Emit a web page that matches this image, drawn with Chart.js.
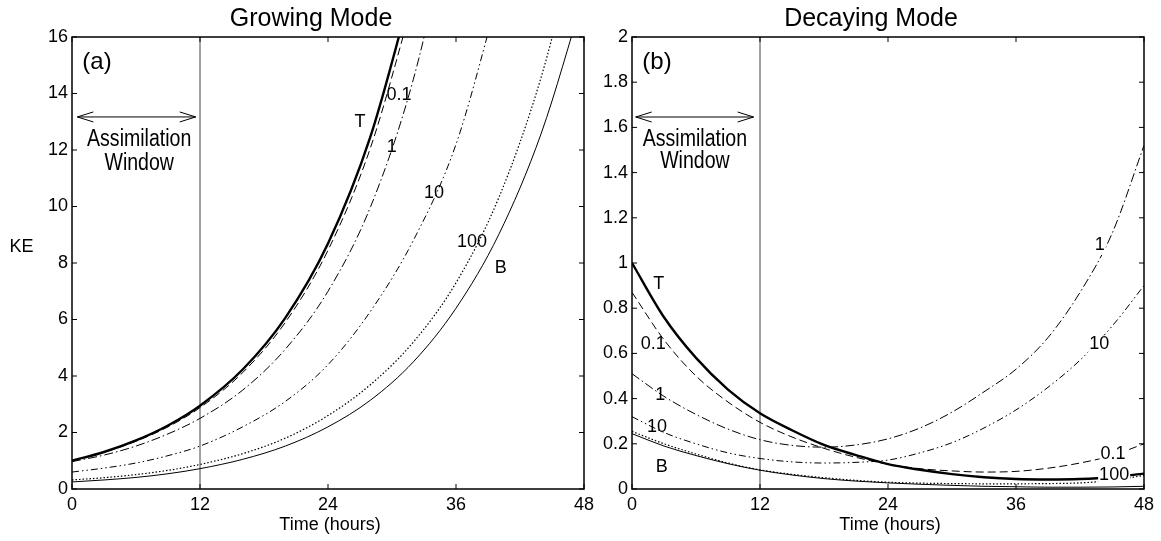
<!DOCTYPE html>
<html>
<head>
<meta charset="utf-8">
<title>Growing and decaying modes</title>
<script src="https://cdn.jsdelivr.net/npm/chart.js@4/dist/chart.umd.min.js"></script>
<style>
  body { margin: 0; background: #fff; }
  #wrap { position: relative; width: 1161px; height: 541px; }
  canvas { position: absolute; top: 0; }
  #growChart { left: 0; }
  #decayChart { left: 600px; }
</style>
</head>
<body>
<div id="wrap">
  <canvas id="growChart" width="600" height="541"></canvas>
  <canvas id="decayChart" width="561" height="541"></canvas>
</div>
<script>
const FONT = "'Liberation Sans', Arial, Helvetica, sans-serif";

// --- Growing mode (panel a) ---
const growHours = [0, 3, 6, 9, 12, 16, 20, 24, 28, 32, 36, 40, 44, 48];
const growT    = [1.00, 1.31, 1.72, 2.25, 2.95, 4.23, 6.06, 8.69, 12.5, 17.9];
const grow01   = [1.00, 1.30, 1.69, 2.20, 2.88, 4.12, 5.90, 8.45, 12.1, 17.3];
const grow1    = [0.97, 1.20, 1.52, 1.95, 2.50, 3.50, 4.95, 7.00, 10.0, 14.5, 21.0];
const grow10   = [0.60, 0.74, 0.92, 1.18, 1.52, 2.20, 3.10, 4.40, 6.30, 8.80, 12.2, 17.5];
const grow100  = [0.32, 0.40, 0.51, 0.66, 0.87, 1.25, 1.80, 2.60, 3.70, 5.20, 7.30, 10.3, 14.6, 20.5];
const growB    = [0.25, 0.32, 0.41, 0.54, 0.72, 1.05, 1.52, 2.20, 3.15, 4.50, 6.40, 9.00, 12.6, 17.5];
const growTicksY = [0, 2, 4, 6, 8, 10, 12, 14, 16];

// --- Decaying mode (panel b) ---
const decayHours = [0, 3, 6, 9, 12, 15, 18, 21, 24, 27, 30, 33, 36, 39, 42, 45, 48];
const decayT   = [1.00, 0.76, 0.58, 0.44, 0.335, 0.26, 0.195, 0.15, 0.11, 0.085, 0.066, 0.052, 0.044, 0.042, 0.044, 0.052, 0.068];
const decay01  = [0.87, 0.66, 0.50, 0.385, 0.295, 0.23, 0.18, 0.14, 0.11, 0.09, 0.08, 0.075, 0.078, 0.092, 0.115, 0.148, 0.20];
const decay1   = [0.51, 0.41, 0.33, 0.265, 0.218, 0.193, 0.185, 0.195, 0.222, 0.27, 0.34, 0.43, 0.53, 0.67, 0.87, 1.13, 1.52];
const decay10  = [0.32, 0.25, 0.20, 0.16, 0.135, 0.12, 0.115, 0.118, 0.128, 0.16, 0.205, 0.27, 0.35, 0.45, 0.57, 0.72, 0.90];
const decay100 = [0.255, 0.20, 0.155, 0.115, 0.085, 0.065, 0.05, 0.038, 0.03, 0.026, 0.024, 0.023, 0.023, 0.024, 0.027, 0.038, 0.06];
const decayB   = [0.245, 0.19, 0.148, 0.112, 0.083, 0.062, 0.046, 0.035, 0.027, 0.021, 0.016, 0.012, 0.01, 0.008, 0.008, 0.009, 0.012];
const decayTicksY = [0, 0.2, 0.4, 0.6, 0.8, 1, 1.2, 1.4, 1.6, 1.8, 2];

const hourTicks = [0, 12, 24, 36, 48];
const windowEnd = 12;

// line style per curve
const styles = {
  T:     { width: 2.4, dash: [] },
  '0.1': { width: 1,   dash: [8, 4] },
  '1':   { width: 1,   dash: [9, 3, 1.5, 3] },
  '10':  { width: 1,   dash: [7, 3, 1.5, 3, 1.5, 3] },
  '100': { width: 1.2, dash: [1.5, 2] },
  B:     { width: 1,   dash: [] }
};

const pts = (hours, vals) => vals.map((v, i) => ({ x: hours[i], y: v }));

function drawText(ctx, str, x, y, size, sx) {
  ctx.save();
  ctx.translate(x, y);
  ctx.scale(sx || 1, 1);
  ctx.font = size + 'px ' + FONT;
  ctx.textAlign = 'center';
  ctx.textBaseline = 'middle';
  ctx.fillStyle = '#000';
  ctx.fillText(str, 0, 0);
  ctx.restore();
}

function seg(ctx, x1, y1, x2, y2) {
  ctx.beginPath();
  ctx.moveTo(x1, y1);
  ctx.lineTo(x2, y2);
  ctx.stroke();
}

// frame, inward ticks, window marker and all the annotation text
const panelDecor = {
  id: 'panelDecor',
  beforeDatasetsDraw(chart) {
    const { ctx, chartArea: a, scales: { x } } = chart;
    const px = x.getPixelForValue(windowEnd);
    ctx.save();
    ctx.strokeStyle = '#444';
    ctx.lineWidth = 1;
    seg(ctx, px, a.top, px, a.bottom);
    ctx.restore();
  },
  afterDraw(chart, args, o) {
    const { ctx, chartArea: a, scales: { x, y } } = chart;
    ctx.save();
    ctx.strokeStyle = '#000';
    ctx.lineWidth = 1.5;
    ctx.strokeRect(a.left, a.top, a.right - a.left, a.bottom - a.top);

    ctx.lineWidth = 1;
    x.ticks.forEach(t => {
      const p = x.getPixelForValue(t.value);
      seg(ctx, p, a.bottom, p, a.bottom - 5);
      seg(ctx, p, a.top, p, a.top + 5);
    });
    y.ticks.forEach(t => {
      const p = y.getPixelForValue(t.value);
      seg(ctx, a.left, p, a.left + 5, p);
      seg(ctx, a.right, p, a.right - 5, p);
    });

    // assimilation window arrow
    const ax1 = x.getPixelForValue(o.arrow.from);
    const ax2 = x.getPixelForValue(o.arrow.to);
    const ay = y.getPixelForValue(o.arrow.at);
    seg(ctx, ax1, ay, ax2, ay);
    seg(ctx, ax1, ay, ax1 + 16, ay - 5);
    seg(ctx, ax1, ay, ax1 + 16, ay + 5);
    seg(ctx, ax2, ay, ax2 - 16, ay - 5);
    seg(ctx, ax2, ay, ax2 - 16, ay + 5);
    const cx = x.getPixelForValue(o.assim.t);
    drawText(ctx, 'Assimilation', cx, y.getPixelForValue(o.assim.v1), 23, 0.85);
    drawText(ctx, 'Window', cx, y.getPixelForValue(o.assim.v2), 23, 0.85);

    // curve labels
    ctx.font = '18px ' + FONT;
    o.labels.forEach(l => {
      const lx = x.getPixelForValue(l.t);
      const ly = y.getPixelForValue(l.v);
      if (l.bg) {
        const w = ctx.measureText(l.text).width + 2;
        ctx.fillStyle = '#fff';
        ctx.fillRect(lx - w / 2, ly - 9, w, 19);
      }
      drawText(ctx, l.text, lx, ly, 18);
    });

    const mid = (a.left + a.right) / 2;
    drawText(ctx, o.title, mid - 17, 19, 25);
    drawText(ctx, 'Time (hours)', mid + 2, 525, 18);
    drawText(ctx, o.tag, a.left + 25, 62, 24);
    if (o.yLabel) drawText(ctx, o.yLabel, 21.5, 247, 18);
    ctx.restore();
  }
};

function makeChart(id, cfg) {
  return new Chart(document.getElementById(id), {
    type: 'line',
    data: {
      datasets: cfg.series.map(s => ({
        label: s.name,
        data: pts(cfg.hours, s.vals),
        borderColor: '#000',
        borderWidth: styles[s.name].width,
        borderDash: styles[s.name].dash,
        pointRadius: 0,
        cubicInterpolationMode: 'monotone',
        fill: false
      }))
    },
    options: {
      responsive: false,
      animation: false,
      events: [],
      layout: { padding: { top: 37, left: 0, right: cfg.padRight, bottom: 0 } },
      plugins: {
        legend: { display: false },
        tooltip: { enabled: false },
        panelDecor: cfg.decor
      },
      scales: {
        x: {
          type: 'linear', min: 0, max: 48,
          afterBuildTicks: s => { s.ticks = hourTicks.map(v => ({ value: v })); },
          afterFit: s => { s.height = 52; },
          grid: { display: false, drawTicks: false },
          border: { display: false },
          ticks: { padding: 5, color: '#000', font: { family: FONT, size: 18 } }
        },
        y: {
          type: 'linear', min: 0, max: cfg.yMax,
          afterBuildTicks: s => { s.ticks = cfg.ticksY.map(v => ({ value: v })); },
          afterFit: s => { s.width = cfg.yWidth; },
          grid: { display: false, drawTicks: false },
          border: { display: false },
          ticks: {
            padding: 4, color: '#000', font: { family: FONT, size: 18 },
            callback: v => String(Math.round(v * 10) / 10)
          }
        }
      }
    },
    plugins: [panelDecor]
  });
}

makeChart('growChart', {
  hours: growHours,
  yMax: 16, ticksY: growTicksY, yWidth: 72, padRight: 16,
  series: [
    { name: 'B', vals: growB },
    { name: '100', vals: grow100 },
    { name: '10', vals: grow10 },
    { name: '1', vals: grow1 },
    { name: '0.1', vals: grow01 },
    { name: 'T', vals: growT }
  ],
  decor: {
    title: 'Growing Mode', tag: '(a)', yLabel: 'KE',
    arrow: { from: 0.5, to: 11.6, at: 13.17 },
    assim: { t: 6.3, v1: 12.35, v2: 11.5 },
    labels: [
      { text: 'T', t: 27.0, v: 13.0 },
      { text: '0.1', t: 30.66, v: 13.93 },
      { text: '1', t: 29.97, v: 12.12 },
      { text: '10', t: 33.94, v: 10.47 },
      { text: '100', t: 37.5, v: 8.73 },
      { text: 'B', t: 40.2, v: 7.82 }
    ]
  }
});

makeChart('decayChart', {
  hours: decayHours,
  yMax: 2, ticksY: decayTicksY, yWidth: 32, padRight: 17,
  series: [
    { name: 'B', vals: decayB },
    { name: '100', vals: decay100 },
    { name: '10', vals: decay10 },
    { name: '1', vals: decay1 },
    { name: '0.1', vals: decay01 },
    { name: 'T', vals: decayT }
  ],
  decor: {
    title: 'Decaying Mode', tag: '(b)',
    arrow: { from: 0.35, to: 11.4, at: 1.646 },
    assim: { t: 5.9, v1: 1.546, v2: 1.447 },
    labels: [
      { text: 'T', t: 2.5, v: 0.908 },
      { text: '0.1', t: 2.0, v: 0.64 },
      { text: '1', t: 2.65, v: 0.416 },
      { text: '10', t: 2.35, v: 0.274 },
      { text: 'B', t: 2.8, v: 0.096 },
      { text: '1', t: 43.85, v: 1.08, bg: true },
      { text: '10', t: 43.8, v: 0.64, bg: true },
      { text: '0.1', t: 45.1, v: 0.153, bg: true },
      { text: '100', t: 45.2, v: 0.062, bg: true }
    ]
  }
});
</script>
</body>
</html>
